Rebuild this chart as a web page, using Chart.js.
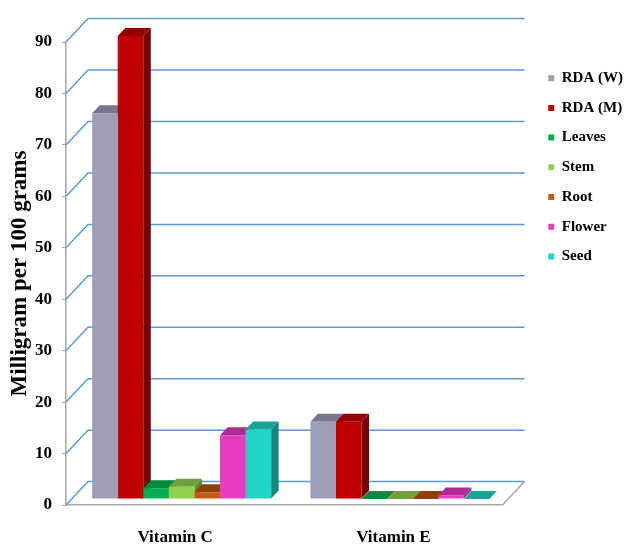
<!DOCTYPE html>
<html>
<head>
<meta charset="utf-8">
<script src="https://cdn.jsdelivr.net/npm/chart.js"></script>
<style>
    html, body { margin: 0; padding: 0; background: #ffffff; }
    #wrap { width: 625px; height: 548px; position: relative; }
</style>
</head>
<body>
<div id="wrap"><canvas id="vitaminChart"></canvas></div>
<script>
// Data
const categories = ['Vitamin C', 'Vitamin E'];
const seriesNames = ['RDA (W)', 'RDA (M)', 'Leaves', 'Stem', 'Root', 'Flower', 'Seed'];
const rdaW = [75, 15];
const rdaM = [90, 15];
const leaves = [2.1, 0];
const stem = [2.4, 0];
const root = [1.3, 0];
const flower = [12.4, 0.7];
const seed = [13.5, 0];
const yTicks = [0, 10, 20, 30, 40, 50, 60, 70, 80, 90];

const seriesValues = [rdaW, rdaM, leaves, stem, root, flower, seed];

// Bar face colours (front / top / right side)
const frontColors = ['#9E9DB8', '#C00000', '#00B050', '#92D050', '#C55A11', '#E63CC0', '#1ED6C6'];
const topColors = ['#77768C', '#960000', '#008A3E', '#6FA03C', '#8E400A', '#B02C92', '#17A597'];
const sideColors = ['#6E6D82', '#780000', '#007030', '#5E8A32', '#7A3508', '#962480', '#13897F'];

const serif = "'Liberation Serif', 'Times New Roman', serif";

// 3D look: back wall offset, bar offset into the depth, bar thickness
const WALL_DX = 22, WALL_DY = 23.4;
const BAR_SHIFT_X = 6.5, BAR_SHIFT_Y = 6;
const BAR_DX = 7.5, BAR_DY = 8;

const threeD = {
    id: 'threeD',
    beforeDatasetsDraw(chart) {
        const {ctx, chartArea: a, scales: {y}} = chart;

        // back wall gridlines + left wall diagonals
        ctx.save();
        ctx.lineWidth = 1.5;
        ctx.strokeStyle = '#5B9BD5';
        y.ticks.forEach(t => {
            const py = y.getPixelForValue(t.value);
            ctx.beginPath();
            ctx.moveTo(a.left, py);
            ctx.lineTo(a.left + WALL_DX, py - WALL_DY);
            ctx.lineTo(a.right + WALL_DX, py - WALL_DY);
            ctx.stroke();
        });
        // floor right edge
        ctx.strokeStyle = '#A6A6A6';
        ctx.lineWidth = 1.5;
        ctx.beginPath();
        ctx.moveTo(a.right, a.bottom);
        ctx.lineTo(a.right + WALL_DX, a.bottom - WALL_DY);
        ctx.stroke();
        ctx.restore();

        // bars sit a little into the depth; tops and sides drawn left to right,
        // the library then paints the front faces over them
        ctx.save();
        ctx.translate(BAR_SHIFT_X, -BAR_SHIFT_Y);
        const bars = [];
        chart.getSortedVisibleDatasetMetas().forEach(meta => {
            meta.data.forEach(el => bars.push({el, i: meta.index}));
        });
        bars.sort((p, q) => p.el.x - q.el.x);
        bars.forEach(({el, i}) => {
            const l = el.x - el.width / 2;
            const r = el.x + el.width / 2;
            const top = Math.min(el.y, el.base);
            const base = Math.max(el.y, el.base);

            ctx.fillStyle = sideColors[i];
            ctx.beginPath();
            ctx.moveTo(r, top);
            ctx.lineTo(r + BAR_DX, top - BAR_DY);
            ctx.lineTo(r + BAR_DX, base - BAR_DY);
            ctx.lineTo(r, base);
            ctx.closePath();
            ctx.fill();

            ctx.fillStyle = topColors[i];
            ctx.beginPath();
            ctx.moveTo(l, top);
            ctx.lineTo(l + BAR_DX, top - BAR_DY);
            ctx.lineTo(r + BAR_DX, top - BAR_DY);
            ctx.lineTo(r, top);
            ctx.closePath();
            ctx.fill();
        });
    },
    afterDatasetsDraw(chart) {
        chart.ctx.restore();
    }
};

new Chart(document.getElementById('vitaminChart'), {
    type: 'bar',
    data: {
        labels: categories,
        datasets: seriesNames.map((name, i) => ({
            label: name,
            data: seriesValues[i],
            backgroundColor: frontColors[i],
            borderWidth: 0,
            categoryPercentage: 0.82,
            barPercentage: 1,
            clip: false
        }))
    },
    options: {
        responsive: true,
        maintainAspectRatio: false,
        animation: false,
        layout: {
            padding: { left: 0, top: 42, right: -8, bottom: 0 }
        },
        plugins: {
            legend: {
                position: 'right',
                align: 'start',
                title: {
                    display: true,
                    text: '',
                    font: { size: 1, lineHeight: 1 },
                    padding: { top: 13, bottom: 0 }
                },
                labels: {
                    boxWidth: 6,
                    boxHeight: 6,
                    padding: 14.7,
                    color: '#000000',
                    font: { size: 15, weight: 'bold', family: serif }
                }
            },
            tooltip: { enabled: false }
        },
        scales: {
            x: {
                grid: { display: false, drawTicks: false },
                border: { color: '#A6A6A6', width: 1.5 },
                ticks: {
                    padding: 22,
                    color: '#000000',
                    font: { size: 17, weight: 'bold', family: serif }
                },
                afterFit(scale) { scale.height = 43; }
            },
            y: {
                min: 0,
                max: 90,
                afterBuildTicks(scale) {
                    scale.ticks = yTicks.map(v => ({ value: v }));
                },
                grid: { drawOnChartArea: false, tickLength: 4, color: '#A6A6A6' },
                border: { color: '#A6A6A6', width: 1.5 },
                ticks: {
                    padding: 10,
                    color: '#000000',
                    font: { size: 17, weight: 'bold', family: serif }
                },
                title: {
                    display: true,
                    text: 'Milligram per 100 grams',
                    color: '#000000',
                    padding: { top: 6, bottom: 0 },
                    font: { size: 23, weight: 'bold', family: serif }
                },
                afterFit(scale) { scale.width = 66; }
            },
            gap: {
                position: 'right',
                grid: { display: false, drawTicks: false },
                border: { display: false },
                ticks: { display: false },
                afterFit(scale) { scale.width = 31; }
            }
        }
    },
    plugins: [threeD]
});
</script>
</body>
</html>
